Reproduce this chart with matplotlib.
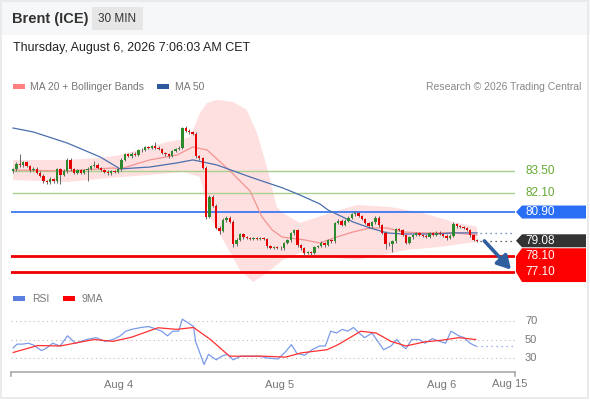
import numpy as np
import matplotlib.pyplot as plt
from matplotlib.patches import Rectangle, Polygon

plt.rcParams['font.family'] = ['Liberation Sans', 'DejaVu Sans']

# ---- data (30 min bars) ----
first_open = 83.50
closes = [83.60, 83.95, 83.85, 84.05, 83.80, 83.55, 83.65, 83.40, 83.20, 82.85,
          82.80, 83.00, 82.85, 83.60, 83.25, 83.50, 84.20, 83.60, 83.40, 83.55,
          83.40, 83.55, 83.65, 83.80, 83.90, 83.70, 83.55, 83.45, 83.35, 83.50,
          83.45, 83.60, 84.20, 84.55, 84.45, 84.60, 84.50, 84.80, 84.85, 85.00,
          84.95, 85.05, 84.95, 84.90, 84.65, 84.55, 84.45, 84.75, 84.90, 84.95,
          86.25, 86.05, 85.95, 85.85, 84.45, 84.30, 83.70, 80.60, 81.85, 81.30,
          79.90, 79.70, 80.40, 80.55, 80.30, 78.85, 79.15, 79.50, 79.30, 79.25,
          79.20, 79.25, 79.20, 79.25, 79.20, 78.75, 78.65, 78.70, 78.65, 78.60,
          78.95, 79.10, 79.55, 79.75, 78.80, 78.60, 78.30, 78.35, 78.30, 78.70,
          78.75, 78.95, 78.80, 79.10, 79.05, 80.20, 80.35, 80.10, 80.35, 80.55,
          80.75, 80.85, 80.65, 80.45, 80.20, 80.00, 80.25, 80.55, 80.05, 79.60,
          78.90, 78.85, 79.05, 79.80, 79.75, 79.45, 78.95, 79.30, 79.45, 79.55,
          79.45, 79.40, 79.35, 79.55, 79.45, 79.60, 79.50, 79.40, 79.25, 79.40,
          80.15, 80.00, 79.95, 79.90, 79.75, 79.45, 79.15, 79.08]
up_wick = [0.10, 0.10, 0.65, 0.10, 0.08, 0.08, 0.10, 0.08, 0.08, 0.08,
           0.08, 0.10, 0.08, 0.10, 0.08, 0.10, 0.15, 0.10, 0.08, 0.08,
           0.08, 0.08, 0.10, 0.10, 0.20, 0.08, 0.08, 0.08, 0.08, 0.08,
           0.08, 0.10, 0.10, 0.10, 0.08, 0.10, 0.08, 0.10, 0.08, 0.10,
           0.08, 0.10, 0.30, 0.10, 0.08, 0.08, 0.08, 0.10, 0.08, 0.10,
           0.05, 0.10, 0.08, 0.08, 0.10, 0.08, 0.10, 0.10, 0.10, 0.10,
           0.08, 0.10, 0.10, 0.10, 0.08, 0.08, 0.10, 0.08, 0.08, 0.08,
           0.08, 0.08, 0.08, 0.08, 0.08, 0.08, 0.08, 0.08, 0.08, 0.08,
           0.08, 0.10, 0.10, 0.10, 0.08, 0.08, 0.08, 0.08, 0.10, 0.08,
           0.08, 0.10, 0.08, 0.10, 0.08, 0.10, 0.10, 0.10, 0.08, 0.10,
           0.10, 0.10, 0.08, 0.08, 0.08, 0.10, 0.08, 0.10, 0.08, 0.08,
           0.08, 0.08, 0.10, 0.10, 0.08, 0.08, 0.08, 0.10, 0.08, 0.08,
           0.08, 0.08, 0.08, 0.10, 0.08, 0.08, 0.08, 0.08, 0.08, 0.08,
           0.15, 0.08, 0.08, 0.08, 0.08, 0.08, 0.08, 0.05]
dn_wick = [0.10, 0.10, 0.08, 0.10, 0.08, 0.10, 0.08, 0.08, 0.10, 0.10,
           0.15, 0.10, 0.10, 0.10, 0.55, 0.10, 0.10, 0.08, 0.10, 0.08,
           0.08, 0.08, 0.70, 0.08, 0.08, 0.08, 0.08, 0.08, 0.10, 0.08,
           0.08, 0.08, 0.08, 0.10, 0.08, 0.10, 0.08, 0.08, 0.08, 0.08,
           0.08, 0.08, 0.08, 0.08, 0.10, 0.10, 0.15, 0.08, 0.08, 0.08,
           0.05, 0.08, 0.08, 0.10, 0.15, 0.10, 0.10, 0.15, 0.10, 0.10,
           0.10, 0.20, 0.08, 0.10, 0.08, 0.15, 0.08, 0.08, 0.08, 0.08,
           0.08, 0.08, 0.08, 0.08, 0.08, 0.10, 0.08, 0.08, 0.08, 0.10,
           0.08, 0.08, 0.08, 0.08, 0.10, 0.10, 0.15, 0.08, 0.10, 0.08,
           0.08, 0.08, 0.10, 0.08, 0.08, 0.10, 0.08, 0.10, 0.08, 0.08,
           0.08, 0.08, 0.08, 0.08, 0.08, 0.10, 0.08, 0.08, 0.10, 0.10,
           0.35, 0.10, 0.45, 0.08, 0.08, 0.08, 0.10, 0.08, 0.08, 0.08,
           0.08, 0.08, 0.08, 0.08, 0.08, 0.08, 0.08, 0.10, 0.10, 0.08,
           0.08, 0.08, 0.08, 0.08, 0.08, 0.10, 0.08, 0.05]

ma50_x = [0, 6, 16, 25.7, 30.7, 31.6, 40.4, 48.4, 53.1, 60.2, 70, 79.7, 84.7,
          90.6, 93, 100.4, 105.4, 110.4, 115.1, 125, 130, 137]
ma50_y = [86.22, 85.97, 85.27, 84.39, 83.75, 83.63, 83.75, 84.01, 84.20, 83.88,
          83.12, 82.42, 81.98, 81.41, 81.03, 80.27, 79.89, 79.58, 79.51, 79.51,
          79.58, 79.58]
ma20_x = [0, 15.9, 29.5, 31.6, 40.4, 48.4, 53.1, 57.3, 63.8, 70, 73.5, 76.5,
          79.4, 86.2, 90.6, 95.6, 100.4, 105.4, 110.4, 115.1, 120.2, 130, 137]
ma20_y = [83.56, 83.50, 83.69, 83.63, 84.20, 84.51, 85.02, 84.83, 83.56, 82.23,
          80.59, 79.77, 79.32, 79.13, 78.94, 79.32, 79.64, 79.89, 79.89, 79.64,
          79.58, 79.58, 79.45]
bb_up_x = [0, 16, 25.7, 31.6, 40.4, 45.5, 49.3, 52.3, 55.2, 57.3, 60.2, 65, 69,
           72, 75, 77.9, 79.7, 84.7, 96.5, 101.6, 111.3, 121, 131, 137]
bb_up_y = [84.20, 84.20, 84.32, 84.51, 85.02, 85.34, 85.47, 85.66, 87.18, 87.81,
           88.00, 87.87, 87.37, 85.91, 83.75, 81.22, 80.84, 80.21, 81.03, 81.35,
           81.22, 80.84, 80.21, 79.96]
bb_lo_x = [0, 16, 28.6, 40.4, 50.2, 55.2, 58.2, 63.2, 67, 70.9, 75, 79.7, 84.7,
           91.5, 101.6, 109.2, 116.3, 126, 137]
bb_lo_y = [82.93, 82.80, 83.06, 83.25, 83.44, 83.12, 80.59, 78.69, 77.23, 76.47,
           77.04, 77.87, 78.31, 78.06, 77.87, 78.18, 78.50, 78.69, 79.01]

rsi_x = [0.05, 1.2, 2.8, 4.5, 6.1, 8.4, 10, 11.7, 13.9, 16.1, 18.4, 21.7, 24.5,
         27.2, 29.5, 31.7, 33.3, 35, 37.8, 40, 41.7, 43.9, 45.6, 47.2, 48.9, 50,
         51.7, 53.3, 53.9, 55, 56.4, 57.7, 60, 61.6, 63.3, 65, 67.2, 69.4, 72.7,
         75, 78.3, 80.5, 82.2, 83.8, 86.1, 88.3, 90.5, 92.2, 93.8, 95.5, 97.2,
         98.8, 100.5, 102.2, 103.8, 106, 107.7, 109.4, 111.6, 113.3, 114.9, 116,
         117.7, 119.9, 121.6, 123.8, 126, 127.7, 129.3, 131.6, 133.2, 134.9, 136.6]
rsi_y = [41, 45, 45, 46, 44, 38, 41, 46, 43, 54, 46, 50, 52, 48, 50, 54, 59, 61,
         63, 64, 62, 59, 54, 59, 59, 72, 68, 64, 48, 37, 23, 34, 28, 32, 34, 28,
         32, 32, 32, 30, 29, 37, 44.5, 35, 33, 39, 43, 43, 59, 57, 61, 59, 63, 57,
         52, 57, 48, 39, 43, 50, 43, 40, 50, 50, 46, 51, 48, 46, 59, 54, 52, 46, 43]
rsi_ma_x = [0.05, 7.3, 13.9, 23.9, 29.5, 35, 42.8, 48.3, 53.3, 58.3, 63.9, 73.9,
            80.5, 85, 92.7, 96, 102.7, 107.2, 111.6, 116, 121.6, 126, 131.6, 136.6]
rsi_ma_y = [36, 43.5, 43, 50, 48, 52.5, 62.7, 61, 63, 50, 32, 32, 31, 35.5, 39,
            44.5, 59, 57, 48, 43, 47.5, 49, 52, 50]

levels_green = [83.50, 82.10]
level_blue = 80.90
last_price = 79.08
levels_red = [78.10, 77.10]
day_ticks = [31.1, 78.8, 126.6]
day_labels = ['Aug 4', 'Aug 5', 'Aug 6']

# ---- layout ----
W, H = 590, 400
XL, XR = 11, 515
XMIN, XMAX = -0.59, 148.2
PT, PB = 95, 285
YLO, YHI = 76.28, 88.31

fig = plt.figure(figsize=(W / 100, H / 100), dpi=100)
fig.patch.set_facecolor('white')


def fig_rect(x0, y0, x1, y1):
    return [x0 / W, 1 - y1 / H, (x1 - x0) / W, (y1 - y0) / H]


def py(p):
    return PB - (p - YLO) / (YHI - YLO) * (PB - PT)


# overlay in pixel coords
ov = fig.add_axes([0, 0, 1, 1], zorder=0)
ov.set_xlim(0, W)
ov.set_ylim(H, 0)
ov.axis('off')
ov.add_patch(Rectangle((0, 0), W, 35, color='#f6f7f8', lw=0))
ov.add_patch(Rectangle((0.5, 0.5), W - 3, H - 3, fill=False, ec='#e6e8ea', lw=1.2))
ov.text(12, 19, 'Brent (ICE)', fontsize=10.5, fontweight='bold', color='#333333', va='center')
ov.add_patch(Rectangle((92, 7), 51, 23, color='#e6e6e6', lw=0))
ov.text(117.5, 19, '30 MIN', fontsize=8.5, color='#333333', ha='center', va='center')
ov.text(13, 48, 'Thursday, August 6, 2026 7:06:03 AM CET', fontsize=9, color='#222222', va='center')

ov.add_patch(Rectangle((13, 84), 12, 5, color='#ff8080', lw=0))
ov.text(30, 86.5, 'MA 20 + Bollinger Bands', fontsize=7.5, color='#777777', va='center')
ov.add_patch(Rectangle((157, 84), 12, 5, color='#2d5a9a', lw=0))
ov.text(175, 86.5, 'MA 50', fontsize=7.5, color='#777777', va='center')
ov.text(581, 86.5, 'Research \u00a9 2026 Trading Central', fontsize=7.5, color='#888888',
        ha='right', va='center')

ov.add_patch(Rectangle((13, 296), 12, 5, color='#5b7fe0', lw=0))
ov.text(32, 298.5, 'RSI', fontsize=7.5, color='#777777', va='center')
ov.add_patch(Rectangle((63, 296), 12, 5, color='#ff0000', lw=0))
ov.text(82, 298.5, '9MA', fontsize=7.5, color='#777777', va='center')

# ---- main price panel ----
ax = fig.add_axes(fig_rect(XL, PT, XR, PB), zorder=1)
ax.patch.set_alpha(0)
ax.set_xlim(XMIN, XMAX)
ax.set_ylim(YLO, YHI)
ax.axis('off')

band_x = np.concatenate([bb_up_x, bb_lo_x[::-1]])
band_y = np.concatenate([bb_up_y, bb_lo_y[::-1]])
ax.fill(band_x, band_y, color='#ffe0e0', lw=0, zorder=1)

for lv in levels_green:
    ax.plot([0, XMAX], [lv, lv], color='#a9d08e', lw=1.0, zorder=2)
ax.plot([XMIN, XMAX], [level_blue, level_blue], color='#3c78f0', lw=1.3, zorder=2)
for lv in levels_red:
    ax.plot([XMIN, XMAX], [lv, lv], color='#ee0000', lw=2.0, zorder=2)

ax.plot(ma20_x, ma20_y, color='#f39393', lw=0.9, zorder=3)
ax.plot(ma50_x, ma50_y, color='#4a6fae', lw=0.9, zorder=3)

c = np.array(closes)
o = np.concatenate([[first_open], c[:-1]])
hi = np.maximum(o, c) + np.array(up_wick)
lo = np.minimum(o, c) - np.array(dn_wick)
idx = np.arange(len(c))
up = c >= o
ax.vlines(idx, lo, hi, color='#666666', lw=0.7, zorder=4)
body = np.maximum(np.abs(c - o), 0.03)
ax.bar(idx[up], body[up], bottom=o[up], width=0.7, color='#2c8a2c', lw=0, zorder=5)
ax.bar(idx[~up], body[~up], bottom=c[~up], width=0.7, color='#e60000', lw=0, zorder=5)

ax.plot([idx[-1] + 1, XMAX], [ma50_y[-1], ma50_y[-1]], color='#4a6fae', lw=0.9, ls=(0, (1, 3)), zorder=3)
ax.plot([idx[-1] + 1, XMAX], [last_price, last_price], color='#333333', lw=0.9, ls=(0, (1, 3)), zorder=3)
ax.annotate('', xy=(147.6, 77.12), xytext=(138.6, 79.2),
            arrowprops=dict(arrowstyle='-|>,head_width=0.45,head_length=0.8',
                            color='#2f5f9f', lw=2.6), zorder=6)


# right labels
def tag(p, text, color, y0=None, y1=None):
    yc = py(p)
    a = yc - 6.5 if y0 is None else y0
    b = yc + 6.5 if y1 is None else y1
    ov.add_patch(Polygon([(516, yc), (522, a), (586, a), (586, b), (522, b)],
                         closed=True, color=color, lw=0, zorder=2))
    ov.text(525, yc, text, fontsize=8.5, color='white', va='center', zorder=3)


for lv in levels_green:
    ov.text(525, py(lv), f'{lv:.2f}', fontsize=8.5, color='#66a832', va='center')
tag(level_blue, f'{level_blue:.2f}', '#2a6ef5')
tag(last_price, f'{last_price:.2f}', '#333333')
ov.add_patch(Polygon([(516, py(78.10)), (522, py(78.10) - 8), (586, py(78.10) - 8),
                      (586, py(77.10) + 10), (522, py(77.10) + 10), (516, py(77.10))],
                     closed=True, color='#ff0000', lw=0, zorder=2))
for lv in levels_red:
    ov.text(525, py(lv), f'{lv:.2f}', fontsize=8.5, color='white', va='center', zorder=3)

# ---- RSI panel ----
RT, RB = 310, 372
rx = fig.add_axes(fig_rect(XL, RT, XR, RB), zorder=1)
rx.patch.set_alpha(0)
rx.set_xlim(XMIN, XMAX)
rx.set_ylim(14.9, 81.9)
for s in ['top', 'right', 'left']:
    rx.spines[s].set_visible(False)
rx.spines['bottom'].set_color('#aaaaaa')
rx.spines['bottom'].set_linewidth(1.2)
rx.set_yticks([])
rx.set_xticks(day_ticks)
rx.set_xticklabels(day_labels)
rx.tick_params(axis='x', length=0, pad=6, labelsize=8, labelcolor='#777777')
for lv in [70, 50, 30]:
    rx.plot([XMIN, XMAX], [lv, lv], color='#bbbbbb', lw=0.8, ls=(0, (1, 3)))
    ov.text(525, RT + (81.9 - lv) / (81.9 - 14.9) * (RB - RT), str(lv), fontsize=8,
            color='#777777', va='center')
rx.plot(rsi_x, rsi_y, color='#7b9bea', lw=0.9)
rx.plot([rsi_x[-1], XMAX], [rsi_y[-1], rsi_y[-1]], color='#7b9bea', lw=0.9, ls=(0, (1, 3)))
rx.plot(rsi_ma_x, rsi_ma_y, color='#ff3030', lw=0.9)
for xe in [XMIN, XMAX]:
    rx.plot([xe, xe], [14.9, 14.9 - 4.5], color='#aaaaaa', lw=1.2, clip_on=False)
ov.text(510, 384, 'Aug 15', fontsize=8, color='#777777', ha='center', va='center')

fig.savefig('out.png', dpi=100)
